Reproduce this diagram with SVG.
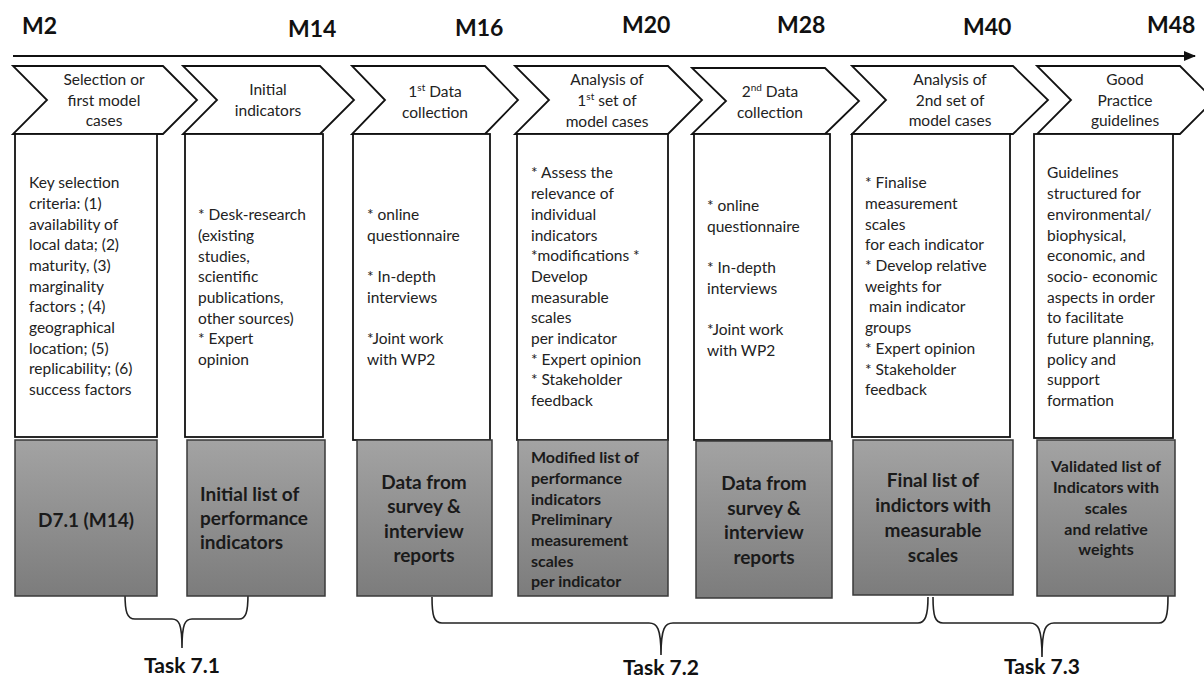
<svg xmlns="http://www.w3.org/2000/svg" width="1204" height="680" viewBox="0 0 1204 680">
<style>
.ms{font-family:Lato,"Liberation Sans",sans-serif;font-weight:bold;font-size:23px;fill:#111}
.chev{fill:#fff;stroke:#111;stroke-width:1.8}
.ct{font-family:Lato,"Liberation Sans",sans-serif;font-size:15.5px;fill:#222;text-anchor:middle}
.box{fill:#fff;stroke:#111;stroke-width:1.8}
.bt{font-family:Lato,"Liberation Sans",sans-serif;font-size:15.5px;fill:#222}
.gb{fill:url(#g);stroke:#3a3a3a;stroke-width:1.5}
.gt{font-family:Lato,"Liberation Sans",sans-serif;font-weight:bold;font-size:19px;fill:#1a1a1a}
.gs{font-family:Lato,"Liberation Sans",sans-serif;font-weight:bold;font-size:16px;fill:#1a1a1a}
.brace{fill:none;stroke:#222;stroke-width:1.6}
.tk{font-family:Lato,"Liberation Sans",sans-serif;font-weight:bold;font-size:21px;fill:#111;text-anchor:middle}
</style>
<defs>
<linearGradient id="g" x1="0" y1="0" x2="0" y2="1">
<stop offset="0" stop-color="#a3a3a3"/>
<stop offset="1" stop-color="#7c7c7c"/>
</linearGradient>
<marker id="ah" markerWidth="12" markerHeight="10" refX="11" refY="5" orient="auto" markerUnits="userSpaceOnUse">
<path d="M0,0 L12,5 L0,10 Z" fill="#111"/>
</marker>
</defs>
<rect width="1204" height="680" fill="#fff"/>

<g id="milestones">
<text class="ms" x="22" y="34">M2</text>
<text class="ms" x="288" y="37">M14</text>
<text class="ms" x="455" y="36">M16</text>
<text class="ms" x="622" y="33">M20</text>
<text class="ms" x="777" y="33">M28</text>
<text class="ms" x="963" y="35">M40</text>
<text class="ms" x="1147" y="33">M48</text>
</g>

<g id="connectors">
<line x1="13" y1="56" x2="1195" y2="56" stroke="#111" stroke-width="2" marker-end="url(#ah)"/>
<path class="brace" d="M125,594 C125,612 127,619 135,619 L172,619 C179,619 182,624 182,648 C182,624 185,619 192,619 L239,619 C246,619 248,612 248,594"/>
<path class="brace" d="M432,597 C432,616 434,623 442,623 L649,623 C657,623 661,628 661,655 C661,628 665,623 673,623 L918,623 C925,623 928,616 928,597"/>
<path class="brace" d="M933,597 C933,616 935,623 943,623 L1030,623 C1038,623 1042,628 1042,657 C1042,628 1046,623 1054,623 L1159,623 C1166,623 1168,616 1168,596"/>
</g>

<g id="step1">
<polygon class="chev" points="13,66 163,66 197,100 163,134 13,134 47,100"/>
<text class="ct" x="104"><tspan x="104" y="85">Selection or</tspan><tspan x="104" y="106">first model</tspan><tspan x="104" y="126">cases</tspan></text>
<rect class="box" x="15" y="134" width="142" height="303"/>
<text class="bt"><tspan x="29" y="188">Key selection</tspan><tspan x="29" y="209">criteria: (1)</tspan><tspan x="29" y="230">availability of</tspan><tspan x="29" y="250">local data; (2)</tspan><tspan x="29" y="271">maturity, (3)</tspan><tspan x="29" y="292">marginality</tspan><tspan x="29" y="312">factors ; (4)</tspan><tspan x="29" y="333">geographical</tspan><tspan x="29" y="354">location; (5)</tspan><tspan x="29" y="374">replicability; (6)</tspan><tspan x="29" y="395">success factors</tspan></text>
<rect class="gb" x="15" y="440" width="142" height="156"/>
<text class="gt" x="86" y="527" text-anchor="middle">D7.1 (M14)</text>
</g>

<g id="step2">
<polygon class="chev" points="183,66 320,66 354,100 320,134 183,134 217,100"/>
<text class="ct"><tspan x="268" y="95">Initial</tspan><tspan x="268" y="116">indicators</tspan></text>
<rect class="box" x="185" y="134" width="138" height="303"/>
<text class="bt"><tspan x="198" y="220">* Desk-research</tspan><tspan x="198" y="241">(existing</tspan><tspan x="198" y="262">studies,</tspan><tspan x="198" y="282">scientific</tspan><tspan x="198" y="303">publications,</tspan><tspan x="198" y="324">other sources)</tspan><tspan x="198" y="344">* Expert</tspan><tspan x="198" y="365">opinion</tspan></text>
<rect class="gb" x="187" y="440" width="138" height="156"/>
<text class="gt"><tspan x="200" y="501">Initial list of</tspan><tspan x="200" y="525">performance</tspan><tspan x="200" y="549">indicators</tspan></text>
</g>

<g id="step3">
<polygon class="chev" points="352,66 485,66 518,100 485,134 352,134 385,100"/>
<text class="ct"><tspan x="435" y="97">1<tspan font-size="10" dy="-6">st</tspan><tspan dy="6"> Data</tspan></tspan><tspan x="435" y="118">collection</tspan></text>
<rect class="box" x="353" y="134" width="137" height="306"/>
<text class="bt"><tspan x="367" y="220">* online</tspan><tspan x="367" y="241">questionnaire</tspan><tspan x="367" y="282">* In-depth</tspan><tspan x="367" y="303">interviews</tspan><tspan x="367" y="344">*Joint work</tspan><tspan x="367" y="365">with WP2</tspan></text>
<rect class="gb" x="357" y="440" width="135" height="156"/>
<text class="gt" text-anchor="middle"><tspan x="424" y="489">Data from</tspan><tspan x="424" y="513">survey &amp;</tspan><tspan x="424" y="538">interview</tspan><tspan x="424" y="562">reports</tspan></text>
</g>

<g id="step4">
<polygon class="chev" points="515,66 668,66 702,100 668,134 515,134 549,100"/>
<text class="ct"><tspan x="607" y="85">Analysis of</tspan><tspan x="607" y="106">1<tspan font-size="10" dy="-6">st</tspan><tspan dy="6">  set of</tspan></tspan><tspan x="607" y="127">model cases</tspan></text>
<rect class="box" x="517" y="134" width="151" height="306"/>
<text class="bt"><tspan x="531" y="178">* Assess the</tspan><tspan x="531" y="199">relevance of</tspan><tspan x="531" y="220">individual</tspan><tspan x="531" y="241">indicators</tspan><tspan x="531" y="261">*modifications *</tspan><tspan x="531" y="282">Develop</tspan><tspan x="531" y="303">measurable</tspan><tspan x="531" y="323">scales</tspan><tspan x="531" y="344">per indicator</tspan><tspan x="531" y="365">* Expert opinion</tspan><tspan x="531" y="385">* Stakeholder</tspan><tspan x="531" y="406">feedback</tspan></text>
<rect class="gb" x="518" y="440" width="150" height="156"/>
<text class="gs"><tspan x="531" y="463">Modified list of</tspan><tspan x="531" y="484">performance</tspan><tspan x="531" y="505">indicators</tspan><tspan x="531" y="525">Preliminary</tspan><tspan x="531" y="546">measurement</tspan><tspan x="531" y="567">scales</tspan><tspan x="531" y="587">per indicator</tspan></text>
</g>

<g id="step5">
<polygon class="chev" points="692,68 825,68 859,101 825,134 692,134 726,101"/>
<text class="ct"><tspan x="770" y="97">2<tspan font-size="10" dy="-6">nd</tspan><tspan dy="6"> Data</tspan></tspan><tspan x="770" y="118">collection</tspan></text>
<rect class="box" x="694" y="134" width="136" height="306"/>
<text class="bt"><tspan x="707" y="211">* online</tspan><tspan x="707" y="232">questionnaire</tspan><tspan x="707" y="273">* In-depth</tspan><tspan x="707" y="294">interviews</tspan><tspan x="707" y="335">*Joint work</tspan><tspan x="707" y="356">with WP2</tspan></text>
<rect class="gb" x="696" y="441" width="136" height="157"/>
<text class="gt" text-anchor="middle"><tspan x="764" y="490">Data from</tspan><tspan x="764" y="515">survey &amp;</tspan><tspan x="764" y="539">interview</tspan><tspan x="764" y="564">reports</tspan></text>
</g>

<g id="step6">
<polygon class="chev" points="852,66 1013,66 1048,100 1013,134 852,134 886,100"/>
<text class="ct"><tspan x="950" y="85">Analysis of</tspan><tspan x="950" y="106">2nd set of</tspan><tspan x="950" y="126">model cases</tspan></text>
<rect class="box" x="852" y="134" width="158" height="303"/>
<text class="bt"><tspan x="865" y="188">* Finalise</tspan><tspan x="865" y="209">measurement</tspan><tspan x="865" y="230">scales</tspan><tspan x="865" y="250">for each indicator</tspan><tspan x="865" y="271">* Develop relative</tspan><tspan x="865" y="292">weights for</tspan><tspan x="865" y="312"> main indicator</tspan><tspan x="865" y="333">groups</tspan><tspan x="865" y="354">* Expert opinion</tspan><tspan x="865" y="375">* Stakeholder</tspan><tspan x="865" y="395">feedback</tspan></text>
<rect class="gb" x="853" y="440" width="160" height="155"/>
<text class="gt" text-anchor="middle"><tspan x="933" y="487">Final list of</tspan><tspan x="933" y="512">indictors with</tspan><tspan x="933" y="537">measurable</tspan><tspan x="933" y="562">scales</tspan></text>
</g>

<g id="step7">
<polygon class="chev" points="1037,66 1180,66 1214,100 1180,134 1037,134 1071,100"/>
<text class="ct"><tspan x="1125" y="85">Good</tspan><tspan x="1125" y="106">Practice</tspan><tspan x="1125" y="126">guidelines</tspan></text>
<rect class="box" x="1034" y="134" width="139" height="304"/>
<text class="bt"><tspan x="1047" y="178">Guidelines</tspan><tspan x="1047" y="199">structured for</tspan><tspan x="1047" y="220">environmental/</tspan><tspan x="1047" y="241">biophysical,</tspan><tspan x="1047" y="261">economic, and</tspan><tspan x="1047" y="282">socio- economic</tspan><tspan x="1047" y="303">aspects in order</tspan><tspan x="1047" y="323">to facilitate</tspan><tspan x="1047" y="344">future planning,</tspan><tspan x="1047" y="365">policy and</tspan><tspan x="1047" y="385">support</tspan><tspan x="1047" y="406">formation</tspan></text>
<rect class="gb" x="1037" y="440" width="138" height="156"/>
<text class="gs" font-size="15.5" text-anchor="middle"><tspan x="1106" y="472">Validated list of</tspan><tspan x="1106" y="493">Indicators with</tspan><tspan x="1106" y="514">scales</tspan><tspan x="1106" y="535">and relative</tspan><tspan x="1106" y="555">weights</tspan></text>
</g>

<g id="tasks">
<text class="tk" x="182" y="673">Task 7.1</text>
<text class="tk" x="661" y="675">Task 7.2</text>
<text class="tk" x="1042" y="674">Task 7.3</text>
</g>
</svg>
